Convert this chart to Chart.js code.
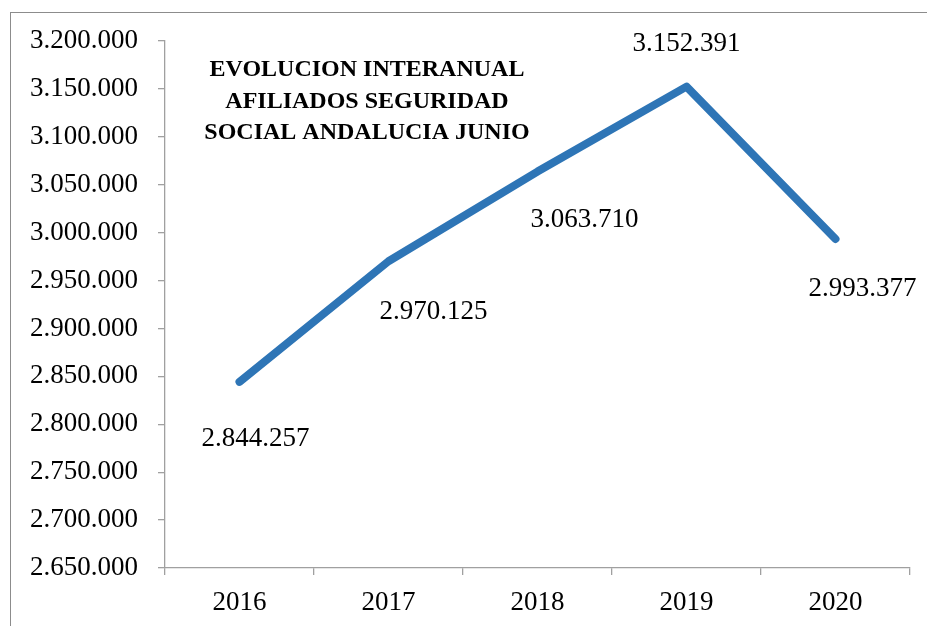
<!DOCTYPE html>
<html><head><meta charset="utf-8">
<script src="https://cdn.jsdelivr.net/npm/chart.js@4.4.0/dist/chart.umd.min.js"></script>
<style>
html,body{margin:0;padding:0;background:#fff;overflow:hidden}
#wrap{position:absolute;left:0;top:0;width:927px;height:626px}
#frame{position:absolute;left:10px;top:12px;width:1000px;height:700px;border-left:1px solid #8c8c8c;border-top:1px solid #8c8c8c;pointer-events:none}
</style></head>
<body>
<div id="wrap"><canvas id="c" width="927" height="626"></canvas></div>
<div id="frame"></div>
<script>
const categories = ['2016','2017','2018','2019','2020'];
const afiliados = [2844257, 2970125, 3063710, 3152391, 2993377];
const titleLines = ['EVOLUCION INTERANUAL','AFILIADOS SEGURIDAD','SOCIAL ANDALUCIA JUNIO'];
const yMin = 2650000, yMax = 3200000, yStep = 50000;

function fmt(v){ return String(Math.round(v)).replace(/\B(?=(\d{3})+(?!\d))/g,'.'); }

const labelOffsets = [[16,57],[45,51],[47,48],[0,-43],[27,50]];
const FONT = '"Liberation Serif", "DejaVu Serif", serif';

const overlay = {
  id:'overlay',
  afterDatasetsDraw(chart){
    const ctx = chart.ctx;
    const meta = chart.getDatasetMeta(0);
    ctx.save();
    ctx.fillStyle = '#000';
    ctx.font = '27px ' + FONT;
    ctx.textAlign = 'center';
    ctx.textBaseline = 'middle';
    meta.data.forEach((pt,i)=>{
      const o = labelOffsets[i];
      ctx.fillText(fmt(afiliados[i]), pt.x + o[0], pt.y + o[1]);
    });
    ctx.font = 'bold 24px ' + FONT;
    titleLines.forEach((t,i)=>{
      ctx.fillText(t, 367, 70 + i*31.5);
    });
    ctx.restore();
  }
};

new Chart(document.getElementById('c'), {
  type:'line',
  data:{ labels: categories, datasets:[{
    data: afiliados,
    borderColor:'#2E75B6',
    borderWidth:8,
    pointRadius:0,
    pointHoverRadius:0,
    tension:0,
    fill:false,
    borderCapStyle:'round',
    borderJoinStyle:'round'
  }]},
  options:{
    responsive:false,
    animation:false,
    events:[],
    layout:{ padding:{ left:0, top:41, right:17, bottom:0 } },
    plugins:{ legend:{display:false}, tooltip:{enabled:false}, title:{display:false} },
    scales:{
      x:{
        offset:true,
        grid:{ offset:true, drawOnChartArea:false, drawTicks:true, tickLength:7, color:'#a0a0a0', lineWidth:1.3 },
        border:{ display:true, color:'#a0a0a0', width:1.3 },
        ticks:{ color:'#000', font:{ family:FONT, size:27 }, padding:12, maxRotation:0 },
        afterFit(s){ s.height = 58; }
      },
      y:{
        min:yMin, max:yMax,
        grid:{ drawOnChartArea:false, drawTicks:true, tickLength:7, color:'#a0a0a0', lineWidth:1.3 },
        border:{ display:true, color:'#a0a0a0', width:1.3 },
        ticks:{ stepSize:yStep, color:'#000', font:{ family:FONT, size:27 }, padding:20, callback:(v)=>fmt(v) },
        afterFit(s){ s.width = 165; }
      }
    }
  },
  plugins:[overlay]
});
</script>
</body></html>
